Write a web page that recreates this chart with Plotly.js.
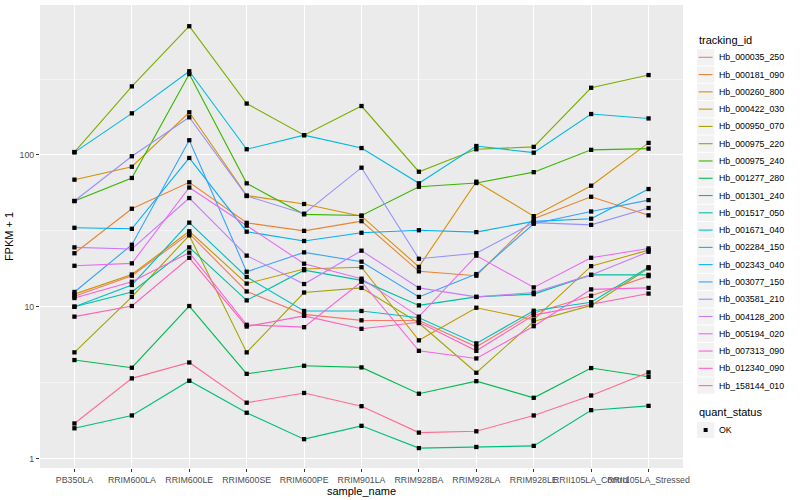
<!DOCTYPE html>
<html>
<head>
<meta charset="utf-8">
<script src="https://cdn.plot.ly/plotly-3.0.1.min.js"></script>
<style>html,body{margin:0;padding:0;background:#fff;}#chart{width:800px;height:500px;}</style>
</head>
<body>
<div id="chart"></div>
<script>
const samples = ["PB350LA","RRIM600LA","RRIM600LE","RRIM600SE","RRIM600PE","RRIM901LA","RRIM928BA","RRIM928LA","RRIM928LE","RRII105LA_Control","RRII105LA_Stressed"];

const trackingIds = ["Hb_000035_250","Hb_000181_090","Hb_000260_800","Hb_000422_030","Hb_000950_070","Hb_000975_220","Hb_000975_240","Hb_001277_280","Hb_001301_240","Hb_001517_050","Hb_001671_040","Hb_002284_150","Hb_002343_040","Hb_003077_150","Hb_003581_210","Hb_004128_200","Hb_005194_020","Hb_007313_090","Hb_012340_090","Hb_158144_010"];

const colors = ["#F8766D","#EA8331","#D89000","#C09B00","#A3A500","#7CAE00","#39B600","#00BB4E","#00BF7D","#00C1A3","#00BFC4","#00BAE0","#00B0F6","#35A2FF","#9590FF","#C77CFF","#E76BF3","#FA62DB","#FF62BC","#FF6C91"];

// FPKM + 1 per tracking_id, in sample order
const Hb_000035_250 = [11.7, 16.0, 30.3, 12.6, 8.9, 8.13, 8.1, 5.44, 9.1, 11.8, 15.9];
const Hb_000181_090 = [22.5, 44.2, 66, 35.7, 31.6, 36.6, 17.1, 16.0, 38, 53, 40];
const Hb_000260_800 = [68.7, 83.6, 191, 54, 47.5, 39.5, 18.3, 66.6, 39.5, 62.7, 120];
const Hb_000422_030 = [12.1, 16.3, 31.4, 14.2, 17.7, 18.2, 6.0, 9.84, 8.2, 18.5, 23.6];
const Hb_000950_070 = [5.0, 11.6, 29.5, 5.0, 12.4, 13.3, 7.8, 3.67, 8.0, 10.2, 17.9];
const Hb_000975_220 = [104.5, 283, 705, 218, 135, 210, 77.5, 109, 113, 277, 336];
const Hb_000975_240 = [49.7, 70.5, 341, 65, 40.6, 39.9, 61.7, 65.3, 77, 108, 110];
const Hb_001277_280 = [4.45, 3.96, 10.1, 3.61, 4.08, 3.98, 2.67, 3.23, 2.51, 3.94, 3.45];
const Hb_001301_240 = [1.58, 1.92, 3.25, 2.0, 1.34, 1.64, 1.17, 1.19, 1.21, 2.08, 2.22];
const Hb_001517_050 = [10.0, 12.5, 24.6, 11.0, 17.4, 14.9, 10.2, 11.6, 12.1, 16.2, 16.2];
const Hb_001671_040 = [10.0, 13.9, 35.8, 15.7, 9.37, 9.37, 8.45, 5.73, 9.4, 10.7, 18.2];
const Hb_002284_150 = [104, 188, 356, 109, 135, 111, 65, 114.5, 103.5, 186, 174];
const Hb_002343_040 = [33.1, 32.6, 95.5, 31.2, 27.1, 30.7, 31.9, 31.0, 36.5, 38, 59.6];
const Hb_003077_150 = [12.5, 25.6, 125, 17.0, 22.8, 19.8, 11.6, 16.4, 35.2, 42.4, 50.4];
const Hb_003581_210 = [49.7, 98, 177, 53.6, 41, 82.4, 20.7, 22.5, 35.8, 34.6, 44.7];
const Hb_004128_200 = [24.6, 24.0, 52, 21.7, 14.1, 23.4, 13.3, 11.6, 12.4, 16.2, 23.0];
const Hb_005194_020 = [18.6, 19.3, 61, 34.2, 19.2, 15.3, 8.6, 21.7, 13.4, 21.0, 24.2];
const Hb_007313_090 = [11.4, 14.6, 22.7, 7.6, 7.33, 14.6, 5.12, 4.56, 7.44, 13.0, 13.3];
const Hb_012340_090 = [8.6, 10.1, 21.0, 7.4, 8.7, 7.15, 7.9, 5.12, 8.8, 10.4, 12.2];
const Hb_158144_010 = [1.70, 3.37, 4.29, 2.33, 2.70, 2.21, 1.48, 1.51, 1.92, 2.60, 3.69];

const quantStatus = ["OK"];

const seriesValues = [Hb_000035_250, Hb_000181_090, Hb_000260_800, Hb_000422_030, Hb_000950_070, Hb_000975_220, Hb_000975_240, Hb_001277_280, Hb_001301_240, Hb_001517_050, Hb_001671_040, Hb_002284_150, Hb_002343_040, Hb_003077_150, Hb_003581_210, Hb_004128_200, Hb_005194_020, Hb_007313_090, Hb_012340_090, Hb_158144_010];

const FONT = "Liberation Sans, Arial, Helvetica, sans-serif";

const traces = trackingIds.map((id, i) => ({
  type: "scatter",
  mode: "lines",
  x: samples,
  y: seriesValues[i],
  name: id,
  line: {color: colors[i], width: 1.1},
  showlegend: false,
  hoverinfo: "skip"
}));

// points (quant_status = OK), all black
const px = [], py = [];
seriesValues.forEach(vals => vals.forEach((v, j) => { px.push(samples[j]); py.push(v); }));
traces.push({
  type: "scatter",
  mode: "markers",
  x: px,
  y: py,
  name: quantStatus[0],
  marker: {color: "black", symbol: "square", size: 4.3},
  showlegend: false,
  hoverinfo: "skip"
});

// ---- ggplot-style legend built in paper coordinates ----
const M = {l: 40, r: 117, t: 5, b: 32};
const PW = 800 - M.l - M.r, PH = 500 - M.t - M.b;
const fx = p => (p - M.l) / PW;
const fy = p => (M.t + PH - p) / PH;
const KEY_X0 = 697, KEY_X1 = 714.3, KEY_H = 17.28, TEXT_X = 716.5;
const LEG_TITLE_Y = 40.5, LEG_FIRST_Y = 57.3;

const shapes = [];
const annotations = [];
annotations.push({xref: "paper", yref: "paper", x: fx(KEY_X0 - 0.5), y: fy(LEG_TITLE_Y), xanchor: "left", yanchor: "middle",
  text: "tracking_id", showarrow: false, font: {size: 11, family: FONT, color: "#000000"}});
trackingIds.forEach((id, i) => {
  const cy = LEG_FIRST_Y + i * KEY_H;
  shapes.push({type: "rect", xref: "paper", yref: "paper", x0: fx(KEY_X0), x1: fx(KEY_X1), y0: fy(cy - KEY_H / 2 + 0.5), y1: fy(cy + KEY_H / 2 - 0.5),
    fillcolor: "#F2F2F2", line: {width: 0}, layer: "above"});
  shapes.push({type: "line", xref: "paper", yref: "paper", x0: fx(KEY_X0 + 1.7), x1: fx(KEY_X1 - 1.7), y0: fy(cy), y1: fy(cy),
    line: {color: colors[i], width: 1.1}, layer: "above"});
  annotations.push({xref: "paper", yref: "paper", x: fx(TEXT_X), y: fy(cy), xanchor: "left", yanchor: "middle",
    text: id, showarrow: false, font: {size: 8.8, family: FONT, color: "#000000"}});
});
const QS_TITLE_Y = 412.3, QS_FIRST_Y = 430;
annotations.push({xref: "paper", yref: "paper", x: fx(KEY_X0 - 0.5), y: fy(QS_TITLE_Y), xanchor: "left", yanchor: "middle",
  text: "quant_status", showarrow: false, font: {size: 11, family: FONT, color: "#000000"}});
quantStatus.forEach((q, i) => {
  const cy = QS_FIRST_Y + i * KEY_H;
  const cx = (KEY_X0 + KEY_X1) / 2;
  shapes.push({type: "rect", xref: "paper", yref: "paper", x0: fx(KEY_X0), x1: fx(KEY_X1), y0: fy(cy - KEY_H / 2 + 0.5), y1: fy(cy + KEY_H / 2 - 0.5),
    fillcolor: "#F2F2F2", line: {width: 0}, layer: "above"});
  shapes.push({type: "rect", xref: "paper", yref: "paper", x0: fx(cx - 2), x1: fx(cx + 2), y0: fy(cy - 2), y1: fy(cy + 2),
    fillcolor: "#000000", line: {width: 0}, layer: "above"});
  annotations.push({xref: "paper", yref: "paper", x: fx(TEXT_X), y: fy(cy), xanchor: "left", yanchor: "middle",
    text: q, showarrow: false, font: {size: 8.8, family: FONT, color: "#000000"}});
});

const layout = {
  width: 800,
  height: 500,
  margin: M,
  paper_bgcolor: "#FFFFFF",
  plot_bgcolor: "#EBEBEB",
  font: {family: FONT, color: "#000000"},
  showlegend: false,
  shapes: shapes,
  annotations: annotations,
  xaxis: {
    type: "category",
    categoryarray: samples,
    range: [-0.6, samples.length - 0.4],
    tickangle: 0,
    tickfont: {size: 8.8, color: "#4D4D4D", family: FONT},
    ticks: "outside",
    ticklen: 3,
    tickwidth: 1,
    tickcolor: "#333333",
    showgrid: true,
    gridcolor: "#FFFFFF",
    gridwidth: 1.1,
    zeroline: false,
    showline: false,
    title: {text: "sample_name", font: {size: 11, family: FONT, color: "#000000"}, standoff: 2}
  },
  yaxis: {
    type: "log",
    range: [-0.063, 2.988],
    tickmode: "array",
    tickvals: [1, 10, 100],
    ticktext: ["1", "10", "100"],
    tickfont: {size: 8.8, color: "#4D4D4D", family: FONT},
    ticks: "outside",
    ticklen: 3,
    tickwidth: 1,
    tickcolor: "#333333",
    showgrid: true,
    gridcolor: "#FFFFFF",
    gridwidth: 1.1,
    zeroline: false,
    showline: false,
    minor: {
      tickmode: "array",
      tickvals: [Math.sqrt(10), Math.sqrt(1000), Math.sqrt(100000)],
      showgrid: true,
      gridcolor: "#FFFFFF",
      gridwidth: 0.5,
      ticks: ""
    },
    title: {text: "FPKM + 1", font: {size: 11, family: FONT, color: "#000000"}, standoff: 3}
  }
};

Plotly.newPlot("chart", traces, layout, {displayModeBar: false, staticPlot: true});
</script>
</body>
</html>
